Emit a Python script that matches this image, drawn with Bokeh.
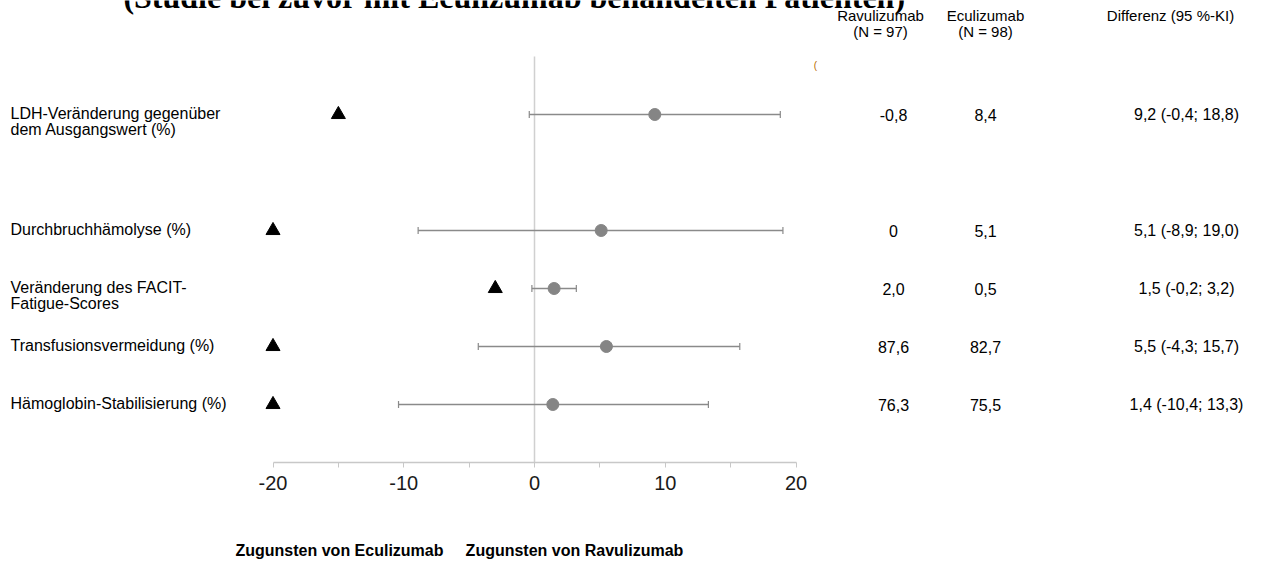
import math
from bokeh.plotting import figure
from bokeh.layouts import column
from bokeh.models import Range1d, FixedTicker, ColumnDataSource
from bokeh.core.properties import value
from bokeh.embed import file_html
from bokeh.resources import INLINE

# ---------------- data ----------------
title_text = "(Studie bei zuvor mit Eculizumab behandelten Patienten)"
endpoints = [
    "LDH-Veränderung gegenüber\ndem Ausgangswert (%)",
    "Durchbruchhämolyse (%)",
    "Veränderung des FACIT-\nFatigue-Scores",
    "Transfusionsvermeidung (%)",
    "Hämoglobin-Stabilisierung (%)",
]
row_slots = [1, 3, 4, 5, 6]
ravulizumab = ["-0,8", "0", "2,0", "87,6", "76,3"]
eculizumab = ["8,4", "5,1", "0,5", "82,7", "75,5"]
diff = [9.2, 5.1, 1.5, 5.5, 1.4]
ci_low = [-0.4, -8.9, -0.2, -4.3, -10.4]
ci_high = [18.8, 19.0, 3.2, 15.7, 13.3]
margin = [-15, -20, -3, -20, -20]
x_ticks = [-20, -10, 0, 10, 20]
minor_ticks = [-15, -5, 5, 15]
headers = [("Ravulizumab", "(N = 97)"), ("Eculizumab", "(N = 98)"), ("Differenz (95 %-KI)", "")]
favours = ["Zugunsten von Eculizumab", "Zugunsten von Ravulizumab"]

def fmt(v):
    return f"{v:.1f}".replace(".", ",")

diff_text = [f"{fmt(d)} ({fmt(l)}; {fmt(h)})" for d, l, h in zip(diff, ci_low, ci_high)]

# ---------------- layout (page pixels) ----------------
W = 1260
H1 = 505            # main figure height
H2 = 55             # strip below for the "Zugunsten" labels
PX = 13.075         # pixels per x unit
ZERO_X = 534        # page x of value 0
SLOT = 58           # pixels per row slot
SLOT0_Y = 56        # page y of slot 0
AXIS_Y = 462        # page y of the x axis line

def xd(page_x):
    return (page_x - ZERO_X) / PX

def yd(page_y):
    return (page_y - SLOT0_Y) / SLOT

SANS = value("Liberation Sans")
SERIF = value("Liberation Serif")
xr = Range1d(xd(0), xd(W))

p = figure(width=W, height=H1, output_backend="svg", toolbar_location=None,
           x_range=xr, y_range=Range1d(yd(AXIS_Y), yd(0)),
           y_axis_location=None,
           min_border_left=0, min_border_right=0, min_border_top=0,
           min_border_bottom=H1 - AXIS_Y)
p.outline_line_color = None
p.grid.visible = False

# x axis
ax = p.xaxis[0]
ax.ticker = FixedTicker(ticks=x_ticks, minor_ticks=minor_ticks)
ax.major_label_overrides = {t: str(t) for t in x_ticks}
ax.bounds = (x_ticks[0], x_ticks[-1])
ax.axis_line_color = "#c8c8c8"
ax.axis_line_width = 1.3
ax.major_tick_line_color = "#c8c8c8"
ax.minor_tick_line_color = "#c8c8c8"
ax.major_tick_out = 5
ax.major_tick_in = 0
ax.minor_tick_out = 5
ax.minor_tick_in = 0
ax.major_label_text_font = "Liberation Sans"
ax.major_label_text_font_size = "20px"
ax.major_label_text_color = "#1a1a1a"
ax.major_label_standoff = 8

# zero line
p.segment(x0=[0], x1=[0], y0=[0], y1=[yd(AXIS_Y)], line_color="#d0d0d0", line_width=1.5)

src = ColumnDataSource(dict(y=row_slots, d=diff, lo=ci_low, hi=ci_high, m=margin))
p.segment(x0="lo", x1="hi", y0="y", y1="y", source=src, line_color="#8a8a8a", line_width=1.5)
for col in ("lo", "hi"):
    p.scatter(x=col, y="y", source=src, marker="dash", angle=math.pi / 2, size=7,
              line_color="#8a8a8a", line_width=1.2)
p.scatter(x="d", y="y", source=src, size=12, fill_color="#858585", line_color="#858585")
p.scatter(x="m", y="y", source=src, marker="triangle", size=14, fill_color="black", line_color="black")

# title (cut off at the top edge)
p.text(x=[xd(514)], y=[yd(-4)], text=[title_text], text_font=SERIF, text_font_style="bold",
       text_font_size="32px", text_align="center", text_baseline="alphabetic", text_color="black")

# column headers
for (h1, h2), cx in zip(headers, [880, 985, 1170]):
    p.text(x=[xd(cx)], y=[yd(15)], text=[h1], text_font=SANS, text_font_size="15px",
           text_align="center", text_baseline="middle", text_color="black")
    if h2:
        p.text(x=[xd(cx)], y=[yd(31)], text=[h2], text_font=SANS, text_font_size="15px",
               text_align="center", text_baseline="middle", text_color="black")

# row labels
for lab, s in zip(endpoints, row_slots):
    for i, line in enumerate(lab.split("\n")):
        p.text(x=[xd(10)], y=[s + (i * 16 - 1.5) / SLOT], text=[line], text_font=SANS, text_font_size="16px",
               text_align="left", text_baseline="middle", text_color="black")

# value columns
for col, cx in zip([ravulizumab, eculizumab, diff_text], [893, 985, 1186]):
    p.text(x=[xd(cx)] * len(col), y=row_slots, text=col, text_font=SANS, text_font_size="16px",
           text_align="center", text_baseline="middle", text_color="black")

# tiny stray glyph
p.text(x=[xd(815)], y=[yd(65)], text=["("], text_font=SANS, text_font_size="10px",
       text_align="center", text_baseline="middle", text_color="#b86a00")

# strip below with the favour labels (shares the x scale)
p2 = figure(width=W, height=H2, output_backend="svg", toolbar_location=None,
            x_range=xr, y_range=Range1d(H2, 0),
            x_axis_location=None, y_axis_location=None,
            min_border_left=0, min_border_right=0, min_border_top=0, min_border_bottom=0)
p2.outline_line_color = None
p2.grid.visible = False
p2.text(x=[xd(339), xd(574)], y=[550 - H1] * 2, text=favours, text_font=SANS, text_font_style="bold",
        text_font_size="16px", text_align="center", text_baseline="middle", text_color="black")

layout = column(p, p2, spacing=0)
open("out.html", "w").write(file_html(layout, INLINE))
